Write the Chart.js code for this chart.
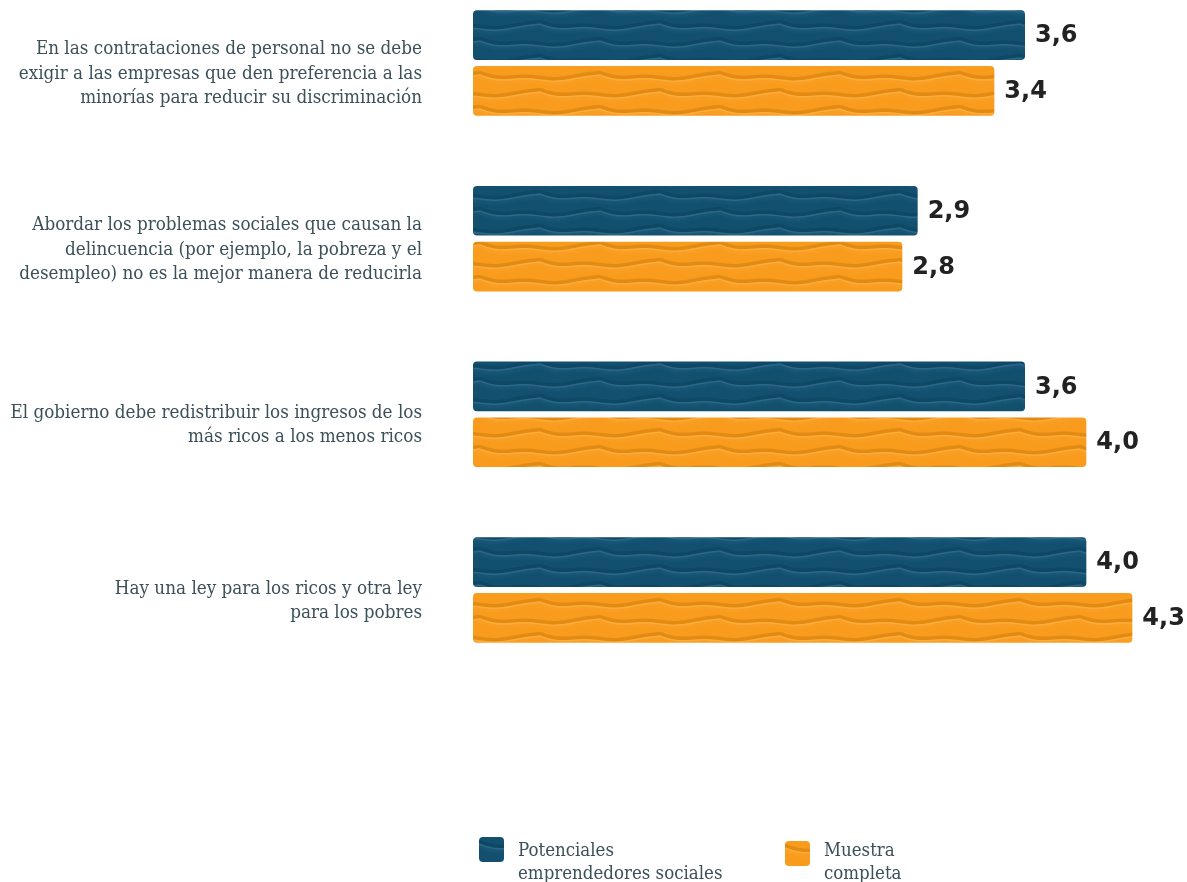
<!DOCTYPE html>
<html lang="es">
<head>
<meta charset="utf-8">
<title>Actitudes</title>
<script src="https://cdn.jsdelivr.net/npm/chart.js@4.4.1/dist/chart.umd.min.js"></script>
<style>
  body { margin: 0; background: #fff; }
  #wrap { position: relative; width: 1187px; height: 882px; }
  .leg { position: absolute; font-family: "DejaVu Serif Condensed", "DejaVu Serif", serif; font-size: 18.5px; line-height: 23px; color: #3b5058; }
  .sw { position: absolute; width: 25px; height: 25px; border-radius: 4px; }
</style>
</head>
<body>
<div id="wrap">
  <canvas id="actitudesChart" width="1187" height="882"></canvas>
  <div class="sw" id="swBlue" style="left:479px; top:837px;"></div>
  <div class="leg" style="left:518px; top:838px;">Potenciales<br>emprendedores sociales</div>
  <div class="sw" id="swOrange" style="left:785px; top:841px;"></div>
  <div class="leg" style="left:824px; top:838px;">Muestra<br>completa</div>
</div>
<script>
const categorias = [
  ['En las contrataciones de personal no se debe', 'exigir a las empresas que den preferencia a las', 'minorías para reducir su discriminación'],
  ['Abordar los problemas sociales que causan la', 'delincuencia (por ejemplo, la pobreza y el', 'desempleo) no es la mejor manera de reducirla'],
  ['El gobierno debe redistribuir los ingresos de los', 'más ricos a los menos ricos'],
  ['Hay una ley para los ricos y otra ley', 'para los pobres']
];
const potenciales = [3.6, 2.9, 3.6, 4.0];
const muestra = [3.4, 2.8, 4.0, 4.3];

// textura ondulada para las barras
function makeTile(base, light, dark) {
  const w = 120, h = 34;
  const c = document.createElement('canvas');
  c.width = w; c.height = h;
  const g = c.getContext('2d');
  g.fillStyle = base;
  g.fillRect(0, 0, w, h);
  const rows = [{ y: 11, ph: 0 }, { y: 28, ph: 0.5 }];
  const curve = (y0, ph) => {
    g.beginPath();
    for (let x = 0; x <= w; x += 1) {
      const u = ((x / w + ph) % 1);
      const y = y0 - 5 * Math.pow(1 - Math.abs(Math.sin(Math.PI * u)), 2) + 1.2 * Math.sin(4 * Math.PI * u);
      if (x === 0) g.moveTo(x, y); else g.lineTo(x, y);
    }
  };
  rows.forEach(r => {
    [-h, 0, h].forEach(dy => {
      for (let k = 7; k >= 1; k--) {
        curve(r.y + dy + k, r.ph);
        g.globalAlpha = 0.16 * (1 - k / 8);
        g.strokeStyle = light; g.lineWidth = 2; g.stroke();
      }
      curve(r.y + dy - 1.5, r.ph);
      g.globalAlpha = 0.5;
      g.strokeStyle = dark; g.lineWidth = 3.5; g.stroke();
      curve(r.y + dy + 1, r.ph);
      g.globalAlpha = 0.55;
      g.strokeStyle = light; g.lineWidth = 1.5; g.stroke();
      g.globalAlpha = 1;
    });
  });
  return c;
}

const tileBlue = makeTile('#13506f', '#3a7597', '#0a3f5b');
const tileOrange = makeTile('#f99c1d', '#ffb54a', '#c97a0c');
const ctx = document.getElementById('actitudesChart').getContext('2d');
const patBlue = ctx.createPattern(tileBlue, 'repeat');
const patOrange = ctx.createPattern(tileOrange, 'repeat');
document.getElementById('swBlue').style.background = 'url(' + tileBlue.toDataURL() + ')';
document.getElementById('swOrange').style.background = 'url(' + tileOrange.toDataURL() + ')';

const valueLabels = {
  id: 'valueLabels',
  afterDatasetsDraw(chart) {
    const c = chart.ctx;
    c.save();
    c.font = 'bold 24px "DejaVu Sans", sans-serif';
    c.fillStyle = '#222222';
    c.textAlign = 'left';
    c.textBaseline = 'middle';
    chart.data.datasets.forEach((ds, i) => {
      chart.getDatasetMeta(i).data.forEach((bar, j) => {
        c.fillText(ds.data[j].toFixed(1).replace('.', ','), bar.x + 10, bar.y + 1);
      });
    });
    c.restore();
  }
};

const actitudesChart = new Chart(ctx, {
  type: 'bar',
  data: {
    labels: categorias,
    datasets: [{
      label: 'Potenciales emprendedores sociales',
      data: potenciales,
      backgroundColor: patBlue,
      borderRadius: 4,
      borderSkipped: false,
      clip: false
    }, {
      label: 'Muestra completa',
      data: muestra,
      backgroundColor: patOrange,
      borderRadius: 4,
      borderSkipped: false,
      clip: false
    }]
  },
  options: {
    indexAxis: 'y',
    responsive: false,
    animation: false,
    categoryPercentage: 0.636,
    barPercentage: 0.89,
    layout: { padding: { top: 63, bottom: 292, left: 0, right: 24 } },
    plugins: {
      legend: { display: false },
      tooltip: { enabled: false }
    },
    scales: {
      x: { display: false, min: 0, max: 4.5 },
      y: {
        offset: false,
        grid: { display: false, drawTicks: false },
        border: { display: false },
        ticks: {
          autoSkip: false,
          padding: 51,
          labelOffset: 11,
          color: '#3b5058',
          font: { family: '"DejaVu Serif Condensed", "DejaVu Serif", serif', size: 18.7, lineHeight: 1.31 }
        },
        afterFit(scale) {
          scale.width = 473;
          scale.paddingTop = 0;
          scale.paddingBottom = 0;
        }
      }
    }
  },
  plugins: [valueLabels]
});
</script>
</body>
</html>
